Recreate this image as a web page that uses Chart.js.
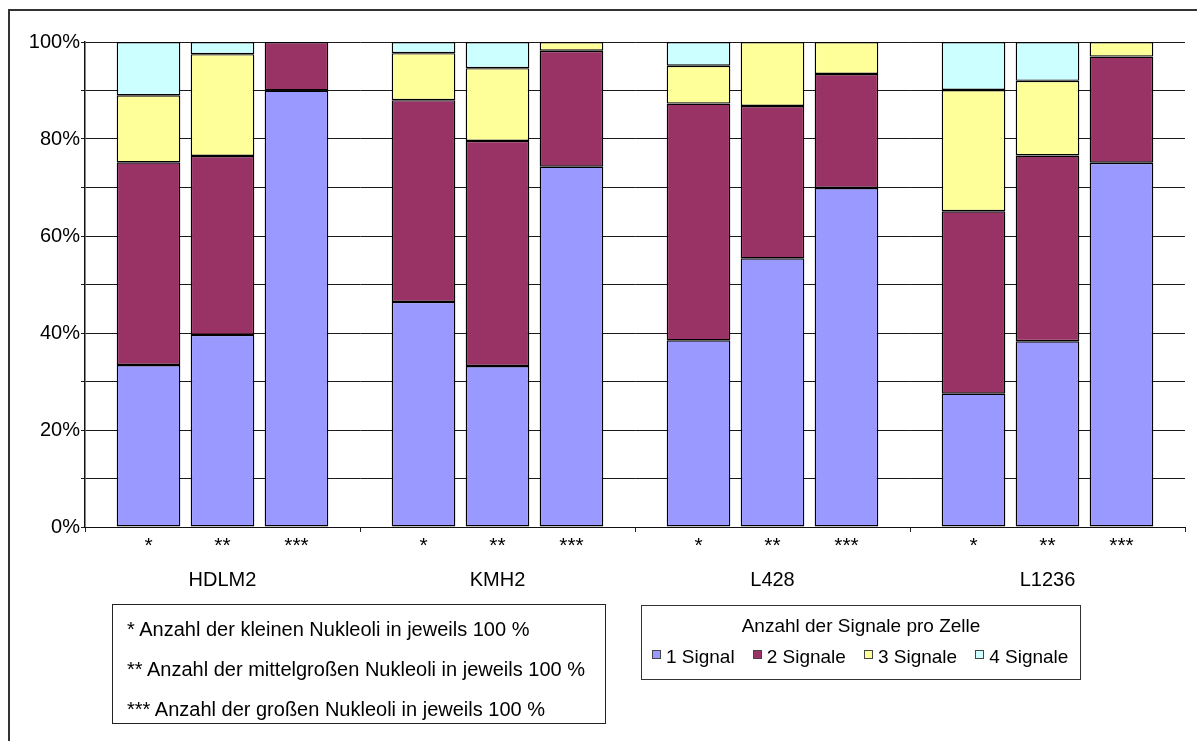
<!DOCTYPE html>
<html>
<head>
<meta charset="utf-8">
<script src="https://cdn.jsdelivr.net/npm/chart.js@4"></script>
<style>
  html, body { margin: 0; padding: 0; background: #fff; }
  body { width: 1197px; height: 741px; position: relative; overflow: hidden; font-family: "Liberation Sans", Arial, sans-serif; color: #000; }
  #frame { position: absolute; left: 8px; top: 9px; width: 1200px; height: 740px; border: 2px solid #333; }
  #wrap { position: absolute; left: 0; top: 0; width: 1197px; height: 741px; }
  #notes { position: absolute; left: 112px; top: 604px; width: 494px; height: 120px; border: 1px solid #222; box-sizing: border-box; padding: 4px 0 0 14px; font-size: 20px; white-space: nowrap; }
  #notes div { height: 40px; line-height: 40px; }
  #legend { position: absolute; left: 641px; top: 605px; width: 440px; height: 75px; border: 1px solid #333; box-sizing: border-box; font-size: 19px; white-space: nowrap; }
  #legend .title { text-align: center; margin-top: 9px; line-height: 22px; }
  #legend .row { display: flex; margin: 9px 0 0 10px; line-height: 22px; }
  #legend .item { display: flex; flex: 0 0 auto; align-items: center; margin-right: 18px; }
  #legend .box { width: 7px; height: 7px; border: 1px solid #444; margin: -6px 5px 0 0; flex: 0 0 auto; }
</style>
</head>
<body>
<div id="frame"></div>
<div id="wrap"><canvas id="chart" width="1197" height="741"></canvas></div>
<div id="notes">
  <div>* Anzahl der kleinen Nukleoli in jeweils 100 %</div>
  <div>** Anzahl der mittelgroßen Nukleoli in jeweils 100 %</div>
  <div>*** Anzahl der großen Nukleoli in jeweils 100 %</div>
</div>
<div id="legend">
  <div class="title">Anzahl der Signale pro Zelle</div>
  <div class="row" id="legendRow"></div>
</div>
<script>
// cell lines on the x axis, nucleoli sizes as the three stacks per group
const cellLines = ['HDLM2', 'KMH2', 'L428', 'L1236']
const sizes = ['*', '**', '***']
const signalNames = ['1 Signal', '2 Signale', '3 Signale', '4 Signale']
const signalColors = ['#9999ff', '#993366', '#ffff99', '#ccffff']
const yTicks = [0, 20, 40, 60, 80, 100]

// rows = 1..4 signals, columns = HDLM2, KMH2, L428, L1236 (percent)
const smallNucleoli = [
	[33.4, 46.4, 38.5, 27.5],
	[41.8, 41.6, 48.8, 37.6],
	[13.8, 9.7, 7.8, 25.0],
	[11.0, 2.3, 4.9, 9.9]
]
const mediumNucleoli = [
	[39.6, 33.2, 55.4, 38.3],
	[36.9, 46.4, 31.4, 38.3],
	[21.0, 15.0, 13.2, 15.4],
	[2.5, 5.4, 0, 8.0]
]
const largeNucleoli = [
	[90.0, 74.3, 69.9, 75.1],
	[10.0, 23.9, 23.5, 21.9],
	[0, 1.8, 6.6, 3.0],
	[0, 0, 0, 0]
]

const bySize = [smallNucleoli, mediumNucleoli, largeNucleoli]
const datasets = []
bySize.forEach((rows, s) => {
	rows.forEach((values, k) => {
		datasets.push({
			label: signalNames[k],
			data: values,
			stack: sizes[s],
			backgroundColor: signalColors[k],
			borderColor: '#000',
			borderWidth: 1.4,
			borderSkipped: false,
			categoryPercentage: 0.807,
			barPercentage: 0.86
		})
	})
})

// stars under every bar, taken from the bar elements themselves
const starLabels = {
	id: 'starLabels',
	afterDatasetsDraw(chart) {
		const ctx = chart.ctx
		ctx.save()
		ctx.font = '21px "Liberation Sans", Arial, sans-serif'
		ctx.fillStyle = '#000'
		ctx.textAlign = 'center'
		ctx.textBaseline = 'middle'
		sizes.forEach((star, s) => {
			const meta = chart.getDatasetMeta(s * signalNames.length)
			meta.data.forEach(bar => {
				ctx.fillText(star, bar.x, chart.chartArea.bottom + 19)
			})
		})
		ctx.restore()
	}
}

const chart = new Chart(document.getElementById('chart'), {
	type: 'bar',
	data: { labels: cellLines, datasets: datasets },
	plugins: [starLabels],
	options: {
		responsive: false,
		animation: false,
		layout: { padding: { left: 0, right: 12, top: 42, bottom: 144 } },
		plugins: { legend: { display: false }, tooltip: { enabled: false } },
		scales: {
			x: {
				stacked: true,
				afterFit(scale) { scale.height = 70 },
				grid: {
					offset: true,
					drawOnChartArea: true,
					color: c => c.index === cellLines.length ? '#999' : 'rgba(0,0,0,0)',
					tickColor: '#222',
					tickLength: 5
				},
				border: { color: '#111', width: 1 },
				ticks: {
					color: '#000',
					padding: 36,
					font: { family: '"Liberation Sans", Arial, sans-serif', size: 20 }
				}
			},
			y: {
				stacked: true,
				min: 0,
				max: 100,
				afterFit(scale) { scale.width = 85 },
				grid: { color: '#1a1a1a', lineWidth: 1, tickLength: 4 },
				border: { color: '#111', width: 1.5 },
				ticks: {
					stepSize: 10,
					padding: 1,
					color: '#000',
					font: { family: '"Liberation Sans", Arial, sans-serif', size: 20 },
					callback: v => yTicks.includes(v) ? v + '%' : ''
				}
			}
		}
	}
})

// html legend built from the same series
const row = document.getElementById('legendRow')
signalNames.forEach((name, k) => {
	const item = document.createElement('div')
	item.className = 'item'
	const box = document.createElement('span')
	box.className = 'box'
	box.style.background = signalColors[k]
	const txt = document.createElement('span')
	txt.textContent = name
	item.appendChild(box)
	item.appendChild(txt)
	row.appendChild(item)
})
</script>
</body>
</html>
